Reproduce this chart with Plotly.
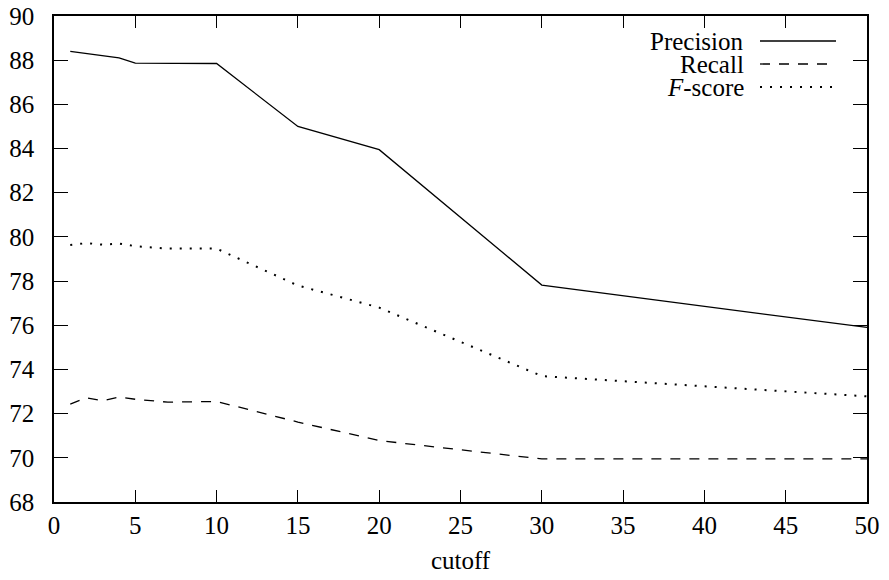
import plotly.graph_objects as go

cutoff = [1, 2, 3, 4, 5, 7, 10, 15, 20, 30, 50]
precision = [88.4, 88.3, 88.2, 88.1, 87.87, 87.85, 87.85, 85.0, 83.95, 77.82, 75.9]
recall = [72.43, 72.72, 72.58, 72.75, 72.65, 72.52, 72.55, 71.62, 70.78, 69.95, 69.95]
fscore = [79.63, 79.72, 79.65, 79.7, 79.58, 79.47, 79.47, 77.8, 76.8, 73.7, 72.78]

series_names = ["Precision", "Recall", "<i>F</i>-score"]
series_dash = ["solid", "10px,9px", "2px,8px"]
series_width = [1.3, 1.3, 2]
series_values = [precision, recall, fscore]

FONT = "'Liberation Serif', Tinos, 'Times New Roman', 'DejaVu Serif', serif"
FS = 25

fig = go.Figure()
for name, vals, dash, w in zip(series_names, series_values, series_dash, series_width):
    fig.add_trace(go.Scatter(x=cutoff, y=vals, mode="lines", name=name,
                             line=dict(color="black", width=w, dash=dash),
                             showlegend=False))

# page has an 8px body margin; size the figure so the plot box lands where the reference has it
W, H = 881, 572
L, R, T, B = 46, 22, 8, 78
OFF = 8
pw, ph = W - L - R, H - T - B
x_left_page = L + OFF
y_top_page = T + OFF

# gnuplot-style legend (text right-aligned, sample to the right)
rows_y = [41, 64, 87]
for name, dash, w, yy in zip(series_names, series_dash, series_width, rows_y):
    yp = 1 - (yy - y_top_page) / ph
    fig.add_annotation(xref="paper", yref="paper", x=(746 - x_left_page) / pw, y=yp,
                       text=name, showarrow=False, xanchor="right", yanchor="middle",
                       font=dict(family=FONT, size=FS, color="black"), height=22)
    fig.add_shape(type="line", xref="paper", yref="paper",
                  x0=(760 - x_left_page) / pw, x1=(836 - x_left_page) / pw, y0=yp, y1=yp,
                  line=dict(color="black", width=w, dash=dash))

axis_common = dict(showgrid=False, zeroline=False, showline=True, linecolor="black",
                   linewidth=1.5, mirror="ticks", ticks="inside", tickcolor="black",
                   tickwidth=1.3, automargin=False, ticklabeloverflow="allow",
                   tickfont=dict(family=FONT, size=FS, color="black"))

fig.update_xaxes(range=[0, 50], dtick=5, tick0=0, ticklen=12,
                 ticklabelstandoff=0,
                 title=dict(text="cutoff", font=dict(family=FONT, size=FS, color="black"),
                            standoff=14),
                 **axis_common)
fig.update_yaxes(range=[68, 90], dtick=2, tick0=68, ticklen=14,
                 ticklabelstandoff=13, **axis_common)

fig.update_layout(width=W, height=H, margin=dict(l=L, r=R, t=T, b=B),
                  plot_bgcolor="white", paper_bgcolor="white",
                  font=dict(family=FONT, size=FS, color="black"))

fig.write_html("out.html")
